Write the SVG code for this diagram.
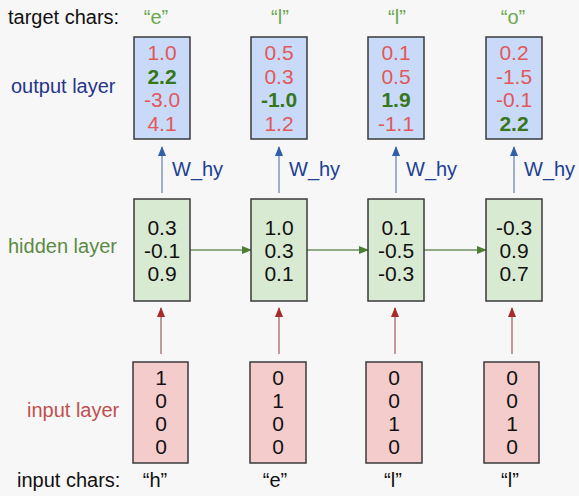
<svg xmlns="http://www.w3.org/2000/svg" width="579" height="496" viewBox="0 0 579 496">
<style>
text{font-family:"Liberation Sans",Arial,sans-serif;font-size:20px}
.c{text-anchor:middle}
.n{font-size:21px}
.box{stroke:#3a3a3a;stroke-width:1.5}
.out{fill:#c9daf8}
.hid{fill:#d9ead3}
.inp{fill:#f4cccc}
.r{fill:#e05858}
.g{fill:#38761d;font-weight:bold}
.k{fill:#111}
.lbl{fill:#111}
.q{fill:#6aa84f}
.wl{fill:#1c3f94}
</style>
<defs>
<marker id="hb" markerWidth="10" markerHeight="10" refX="9" refY="5" orient="auto" markerUnits="userSpaceOnUse"><path d="M0,1 L10,5 L0,9 Z" fill="#2f5fa8"/></marker>
<marker id="hr" markerWidth="10" markerHeight="10" refX="9" refY="5" orient="auto" markerUnits="userSpaceOnUse"><path d="M0,1 L10,5 L0,9 Z" fill="#a82a2a"/></marker>
<marker id="hg" markerWidth="10" markerHeight="10" refX="9" refY="5" orient="auto" markerUnits="userSpaceOnUse"><path d="M0,1 L10,5 L0,9 Z" fill="#4e7d34"/></marker>
</defs>
<rect width="579" height="496" fill="#f7f7f7"/>
<g id="labels">
<text class="lbl" x="8" y="24">target chars:</text>
<text x="11" y="93" fill="#24358a">output layer</text>
<text x="8" y="253" fill="#5b8a45">hidden layer</text>
<text x="27" y="417" fill="#c0504d">input layer</text>
<text class="lbl" x="17" y="487">input chars:</text>
<text class="c q" x="156" y="24">“e”</text>
<text class="c q" x="280" y="24">“l”</text>
<text class="c q" x="397" y="24">“l”</text>
<text class="c q" x="513" y="24">“o”</text>
<text class="c k" x="155" y="487">“h”</text>
<text class="c k" x="275" y="487">“e”</text>
<text class="c k" x="393" y="487">“l”</text>
<text class="c k" x="510" y="487">“l”</text>
</g>
<g id="connectors">
<g stroke="#7f97bb" stroke-width="1.5" marker-end="url(#hb)">
<line x1="162" y1="193" x2="162" y2="147"/>
<line x1="279" y1="193" x2="279" y2="147"/>
<line x1="396" y1="193" x2="396" y2="147"/>
<line x1="514" y1="193" x2="514" y2="147"/>
</g>
<g stroke="#b07a7a" stroke-width="1.5" marker-end="url(#hr)">
<line x1="161" y1="354" x2="161" y2="308"/>
<line x1="279" y1="354" x2="279" y2="308"/>
<line x1="395" y1="354" x2="395" y2="308"/>
<line x1="512" y1="354" x2="512" y2="308"/>
</g>
<g stroke="#6f8f5f" stroke-width="1.5" marker-end="url(#hg)">
<line x1="190" y1="250" x2="251" y2="250"/>
<line x1="307" y1="250" x2="368" y2="250"/>
<line x1="424" y1="250" x2="486" y2="250"/>
</g>
<text class="wl" x="172" y="176">W_hy</text>
<text class="wl" x="289" y="176">W_hy</text>
<text class="wl" x="406" y="176">W_hy</text>
<text class="wl" x="524" y="176">W_hy</text>
</g>
<g id="out1"><rect class="box out" x="134" y="37" width="56" height="102"/>
<text class="c n r" x="162" y="60">1.0</text><text class="c n g" x="162" y="84">2.2</text><text class="c n r" x="162" y="107">-3.0</text><text class="c n r" x="162" y="131">4.1</text></g>
<g id="out2"><rect class="box out" x="251" y="37" width="56" height="102"/>
<text class="c n r" x="279" y="60">0.5</text><text class="c n r" x="279" y="84">0.3</text><text class="c n g" x="279" y="107">-1.0</text><text class="c n r" x="279" y="131">1.2</text></g>
<g id="out3"><rect class="box out" x="368" y="37" width="56" height="102"/>
<text class="c n r" x="396" y="60">0.1</text><text class="c n r" x="396" y="84">0.5</text><text class="c n g" x="396" y="107">1.9</text><text class="c n r" x="396" y="131">-1.1</text></g>
<g id="out4"><rect class="box out" x="486" y="37" width="56" height="102"/>
<text class="c n r" x="514" y="60">0.2</text><text class="c n r" x="514" y="84">-1.5</text><text class="c n r" x="514" y="107">-0.1</text><text class="c n g" x="514" y="131">2.2</text></g>
<g id="hid1"><rect class="box hid" x="134" y="199" width="56" height="102"/>
<text class="c n k" x="162" y="235">0.3</text><text class="c n k" x="162" y="258">-0.1</text><text class="c n k" x="162" y="281">0.9</text></g>
<g id="hid2"><rect class="box hid" x="251" y="199" width="56" height="102"/>
<text class="c n k" x="279" y="235">1.0</text><text class="c n k" x="279" y="258">0.3</text><text class="c n k" x="279" y="281">0.1</text></g>
<g id="hid3"><rect class="box hid" x="368" y="199" width="56" height="102"/>
<text class="c n k" x="396" y="235">0.1</text><text class="c n k" x="396" y="258">-0.5</text><text class="c n k" x="396" y="281">-0.3</text></g>
<g id="hid4"><rect class="box hid" x="486" y="199" width="56" height="102"/>
<text class="c n k" x="514" y="235">-0.3</text><text class="c n k" x="514" y="258">0.9</text><text class="c n k" x="514" y="281">0.7</text></g>
<g id="in1"><rect class="box inp" x="133" y="362" width="55" height="101"/>
<text class="c n k" x="161" y="385">1</text><text class="c n k" x="161" y="408">0</text><text class="c n k" x="161" y="431">0</text><text class="c n k" x="161" y="454">0</text></g>
<g id="in2"><rect class="box inp" x="250" y="362" width="56" height="101"/>
<text class="c n k" x="278" y="385">0</text><text class="c n k" x="278" y="408">1</text><text class="c n k" x="278" y="431">0</text><text class="c n k" x="278" y="454">0</text></g>
<g id="in3"><rect class="box inp" x="366" y="362" width="56" height="101"/>
<text class="c n k" x="394" y="385">0</text><text class="c n k" x="394" y="408">0</text><text class="c n k" x="394" y="431">1</text><text class="c n k" x="394" y="454">0</text></g>
<g id="in4"><rect class="box inp" x="484" y="362" width="55" height="101"/>
<text class="c n k" x="512" y="385">0</text><text class="c n k" x="512" y="408">0</text><text class="c n k" x="512" y="431">1</text><text class="c n k" x="512" y="454">0</text></g>
</svg>
